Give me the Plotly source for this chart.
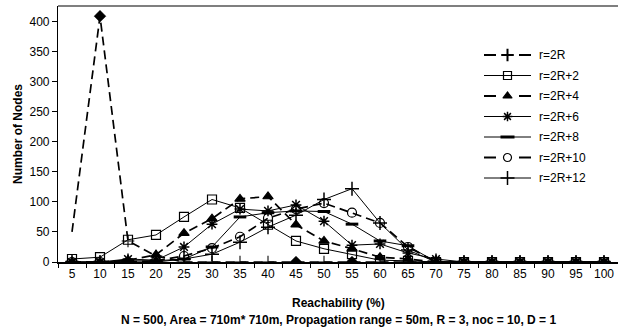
import plotly.graph_objects as go

reach = [5, 10, 15, 20, 25, 30, 35, 40, 45, 50, 55, 60, 65, 70, 75, 80, 85, 90, 95, 100]
tick_labels = [str(v) for v in reach]

r2R   = [50, 409, 35, 10, 0, 0, 0, 0, 0, 0, 0, 0, 0, 0, 0, 0, 0, 0, 0, 0]
r2R2  = [5, 8, 37, 45, 75, 104, 90, 62, 35, 22, 13, 3, 2, 0, 0, 0, 0, 0, 0, 0]
r2R4  = [0, 0, 3, 12, 48, 72, 105, 109, 62, 35, 22, 8, 5, 0, 0, 0, 0, 0, 0, 0]
r2R6  = [0, 0, 5, 3, 25, 63, 88, 85, 95, 68, 28, 30, 15, 5, 0, 0, 0, 0, 0, 0]
r2R8  = [0, 0, 2, 2, 5, 25, 75, 82, 85, 84, 63, 35, 27, 0, 0, 0, 0, 0, 0, 0]
r2R10 = [0, 0, 0, 2, 10, 23, 42, 73, 88, 98, 82, 65, 25, 0, 0, 0, 0, 0, 0, 0]
r2R12 = [0, 0, 0, 0, 5, 13, 33, 58, 78, 104, 122, 65, 20, 0, 0, 0, 0, 0, 0, 0]

series_names = ["r=2R", "r=2R+2", "r=2R+4", "r=2R+6", "r=2R+8", "r=2R+10", "r=2R+12"]
series_vals = [r2R, r2R2, r2R4, r2R6, r2R8, r2R10, r2R12]

# r=2R: plus markers, with a few points drawn as diamonds (as in the original)
diamond_pts = [10, 45, 55]
r2R_sizes = [0 if (v == 5 or v in diamond_pts) else 9 for v in reach]

DASH = "9px,5px"
styles = [
    dict(dashed=True, symbol="cross-thin-open", size=r2R_sizes, lsym="cross-thin-open", lsize=9),
    dict(dashed=False, symbol="square-open", size=9, lsym="square-open", lsize=8),
    dict(dashed=True, symbol="triangle-up", size=9, lsym="triangle-up", lsize=8),
    dict(dashed=False, symbol="asterisk-open", size=9, lsym="asterisk-open", lsize=8),
    dict(dashed=False, symbol="line-ew-open", size=9, lsym="line-ew-open", lsize=10),
    dict(dashed=True, symbol="circle-open", size=9, lsym="circle-open", lsize=8),
    dict(dashed=False, symbol="cross-thin-open", size=10, lsym="cross-thin-open", lsize=10),
]

def mline_w(sym):
    if sym == "line-ew-open":
        return 3
    if sym in ("asterisk-open", "cross-thin-open"):
        return 1.5
    return 1.2

fig = go.Figure()
for i, (name, vals, st) in enumerate(zip(series_names, series_vals, styles)):
    fig.add_trace(go.Scatter(
        x=reach, y=vals, name=name, mode="lines+markers", showlegend=False,
        line=dict(color="black", width=1.7 if st["dashed"] else 1,
                  dash=DASH if st["dashed"] else "solid"),
        marker=dict(symbol=st["symbol"], size=st["size"], color="black",
                    line=dict(color="black", width=mline_w(st["symbol"]))),
    ))
    if i == 0:
        dx = [x for x in reach if x in diamond_pts]
        dy = [y for x, y in zip(reach, vals) if x in diamond_pts]
        fig.add_trace(go.Scatter(
            x=dx, y=dy, mode="markers", showlegend=False,
            marker=dict(symbol="diamond", size=9, color="black", opacity=1,
                        line=dict(color="black", width=0.5)),
        ))

# ---- hand-made legend (decoration) on an overlay axis measured in pixels ----
PW, PH = 560, 256          # plot area size in px
LX0, LX1 = 426, 473        # legend sample line extent (px from plot left)
LXM = (LX0 + LX1) / 2
ROW0, ROWSTEP = 207, 20.5  # first row (px from plot bottom), row step
annotations = []
for i, (name, st) in enumerate(zip(series_names, styles)):
    yy = ROW0 - i * ROWSTEP
    if st["dashed"]:
        segs = [(LX0, LX0 + 12), (LX1 - 12, LX1)]
        lw = 2
    else:
        segs = [(LX0, LX1)]
        lw = 1
    for a, b in segs:
        fig.add_trace(go.Scatter(x=[a, b], y=[yy, yy], mode="lines", xaxis="x2", yaxis="y2",
                                 line=dict(color="black", width=lw), showlegend=False,
                                 hoverinfo="skip"))
    lw_m = 2 if i == 0 else mline_w(st["lsym"])
    fig.add_trace(go.Scatter(x=[LXM], y=[yy], mode="markers", xaxis="x2", yaxis="y2",
                             marker=dict(symbol=st["lsym"], size=st["lsize"], color="black",
                                         line=dict(color="black", width=lw_m)),
                             showlegend=False, hoverinfo="skip"))
    annotations.append(dict(text=name, xref="x2", yref="y2", x=LX1 + 6, y=yy,
                            xanchor="left", yanchor="middle", showarrow=False,
                            font=dict(size=12)))

font_family = "Liberation Sans, Arial, sans-serif"

annotations += [
    dict(text="<b>Reachability (%)</b>", xref="paper", yref="paper", x=0.5, y=0,
         yanchor="middle", yshift=-41, showarrow=False, font=dict(size=12)),
    dict(text="<b>N = 500, Area = 710m* 710m, Propagation range = 50m, R = 3, noc = 10, D = 1</b>",
         xref="paper", yref="paper", x=0.5, y=0, yanchor="middle", yshift=-58,
         showarrow=False, font=dict(size=12)),
    dict(text="<b>Number of Nodes</b>", xref="paper", yref="paper", x=0, y=0.5,
         xanchor="center", yanchor="middle", xshift=-40, textangle=-90,
         showarrow=False, font=dict(size=12)),
]

fig.update_layout(
    width=618, height=331,
    margin=dict(l=58, r=0, t=6, b=69),
    paper_bgcolor="white", plot_bgcolor="white",
    font=dict(family=font_family, size=12, color="black"),
    showlegend=False,
    xaxis=dict(range=[2.5, 102.5], tickmode="array", tickvals=reach, ticktext=tick_labels,
               showline=True, linecolor="black", linewidth=1.5, mirror=False,
               ticks="", ticklen=4,
               minor=dict(tickmode="array", tickvals=[v + 2.5 for v in reach[:-1]] + [2.5],
                          ticks="outside", ticklen=4, tickcolor="black"),
               showgrid=False, zeroline=False, tickfont=dict(size=12)),
    yaxis=dict(range=[0, 426], tickmode="array", tickvals=list(range(0, 401, 50)),
               showline=True, linecolor="black", linewidth=1.2,
               ticks="outside", ticklen=5, tickcolor="black",
               showgrid=False, zeroline=False, tickfont=dict(size=12)),
    xaxis2=dict(overlaying="x", range=[0, PW], visible=False, fixedrange=True),
    yaxis2=dict(overlaying="y", range=[0, PH], visible=False, fixedrange=True),
    annotations=annotations,
    shapes=[dict(type="line", xref="paper", yref="paper", x0=0, x1=1, y0=1, y1=1,
                 line=dict(color="black", width=1.2))],
)

fig.write_html("out.html")
